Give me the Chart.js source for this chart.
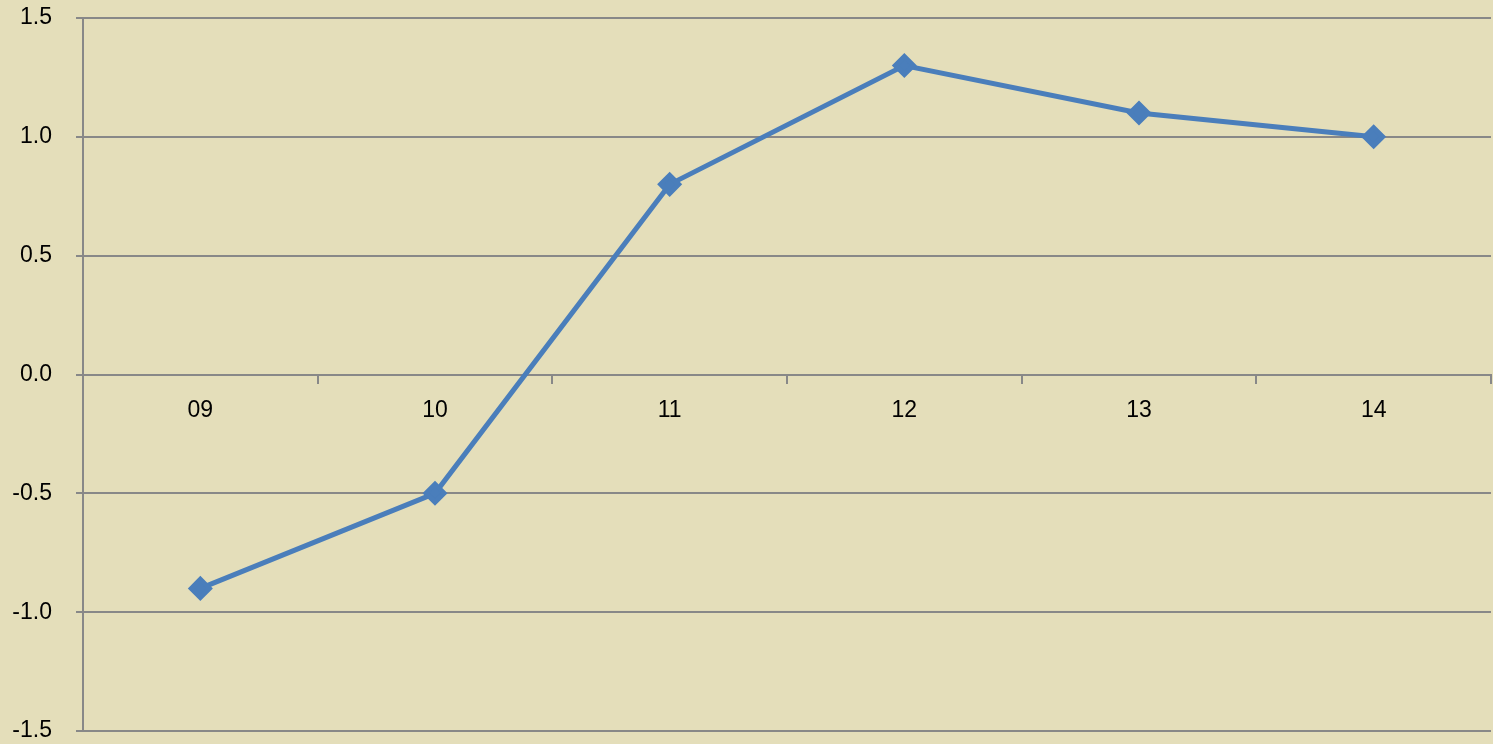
<!DOCTYPE html>
<html>
<head>
<meta charset="utf-8">
<script src="https://cdn.jsdelivr.net/npm/chart.js@4"></script>
<style>
html,body{margin:0;padding:0;background:#e4deba;}
#wrap{width:1493px;height:744px;position:relative;}
</style>
</head>
<body>
<div id="wrap"><canvas id="c" width="1493" height="744"></canvas></div>
<script>
const categories = ['09','10','11','12','13','14'];
const values = [-0.9, -0.5, 0.8, 1.3, 1.1, 1.0];
const yMin = -1.5, yMax = 1.5, yStep = 0.5;

const bgPlugin = {
  id: 'bg',
  beforeDraw(chart) {
    const ctx = chart.ctx;
    ctx.save();
    ctx.fillStyle = '#e4deba';
    ctx.fillRect(0, 0, chart.width, chart.height);
    ctx.restore();
  }
};

new Chart(document.getElementById('c'), {
  type: 'line',
  data: {
    labels: categories,
    datasets: [{
      data: values,
      borderColor: '#4a7ebb',
      backgroundColor: '#4a7ebb',
      borderWidth: 5,
      pointStyle: 'rectRot',
      pointRadius: 9,
      pointHoverRadius: 9,
      tension: 0,
      fill: false
    }]
  },
  options: {
    responsive: false,
    animation: false,
    devicePixelRatio: 1,
    layout: { autoPadding: false, padding: { top: 18, bottom: 13, right: 2, left: 0 } },
    plugins: { legend: { display: false }, tooltip: { enabled: false } },
    scales: {
      x: {
        position: { y: 0 },
        offset: true,
        afterFit(scale) { scale.height = 0; scale.paddingLeft = 0; scale.paddingRight = 0; },
        grid: { display: true, offset: true, drawOnChartArea: false, tickLength: 8, color: '#888888', lineWidth: 2 },
        border: { display: true, color: '#888888', width: 2 },
        ticks: { color: '#000', font: { family: 'Liberation Sans', size: 23 }, padding: 14, maxRotation: 0 }
      },
      y: {
        min: yMin, max: yMax,
        afterFit(scale) { scale.width = 83; scale.paddingTop = 0; scale.paddingBottom = 0; },
        grid: { color: '#888888', lineWidth: 2, tickLength: 7 },
        border: { display: true, color: '#888888', width: 2 },
        ticks: {
          stepSize: yStep,
          color: '#000',
          font: { family: 'Liberation Sans', size: 23 },
          padding: 24,
          callback: v => v.toFixed(1)
        }
      }
    }
  },
  plugins: [bgPlugin]
});
</script>
</body>
</html>
